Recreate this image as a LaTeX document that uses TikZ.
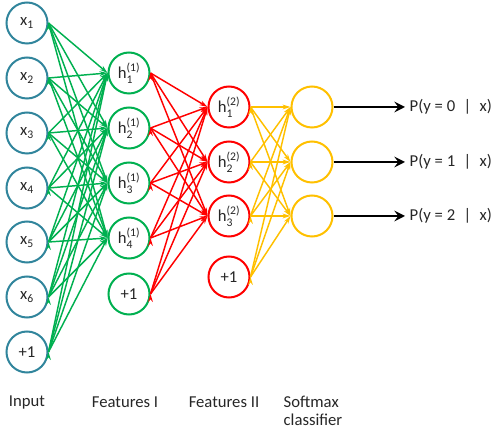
\documentclass[tikz,border=0pt]{standalone}
\usepackage{amsmath}
\usepackage{fontspec}
\setmainfont{Carlito}
\usetikzlibrary{arrows.meta}
\definecolor{inblue}{HTML}{31859C}
\definecolor{fgreen}{HTML}{00B050}
\definecolor{fred}{HTML}{FF0000}
\definecolor{forange}{HTML}{FFC000}
\definecolor{txt}{HTML}{262626}
\newcommand{\hunit}[2]{h$^{\text{(#2)}}_{\text{#1}}$}
\begin{document}
\begin{tikzpicture}[x=0.75pt, y=-0.75pt, font=\fontsize{12.5}{14}\selectfont,
    unit/.style={circle, draw=#1, text=txt, line width=1.5pt, minimum size=30.75pt, inner sep=0pt},
    wire/.style={line width=1.1pt, -{Stealth[length=6pt, width=3.6pt]}},
    outarrow/.style={black, line width=1.8pt, -{Stealth[length=8pt, width=8pt, inset=3pt]}},
    caption/.style={align=left, anchor=center, text=txt}]
    \useasboundingbox (0, 0) rectangle (500, 434);
    % input layer
    \node[unit=inblue] (x1) at (27, 23) {x\textsubscript{1}};
    \node[unit=inblue] (x2) at (27, 78) {x\textsubscript{2}};
    \node[unit=inblue] (x3) at (27, 133) {x\textsubscript{3}};
    \node[unit=inblue] (x4) at (27, 188) {x\textsubscript{4}};
    \node[unit=inblue] (x5) at (27, 242) {x\textsubscript{5}};
    \node[unit=inblue] (x6) at (27, 297) {x\textsubscript{6}};
    \node[unit=inblue] (xb) at (27, 352) {+1};
    % features I
    \node[unit=fgreen] (a1) at (129, 73) {\hunit{1}{1}};
    \node[unit=fgreen] (a2) at (129, 128) {\hunit{2}{1}};
    \node[unit=fgreen] (a3) at (129, 183) {\hunit{3}{1}};
    \node[unit=fgreen] (a4) at (129, 238) {\hunit{4}{1}};
    \node[unit=fgreen] (ab) at (129, 294) {+1};
    % features II
    \node[unit=fred] (b1) at (229, 107) {\hunit{1}{2}};
    \node[unit=fred] (b2) at (229, 162) {\hunit{2}{2}};
    \node[unit=fred] (b3) at (229, 216) {\hunit{3}{2}};
    \node[unit=fred] (bb) at (229, 277) {+1};
    % softmax
    \node[unit=forange] (s1) at (312, 107) {};
    \node[unit=forange] (s2) at (312, 162) {};
    \node[unit=forange] (s3) at (312, 216) {};
    % input to features I
    \draw[wire, fgreen] (x1.east) edge (a1.west) edge (a2.west) edge (a3.west) edge (a4.west);
    \draw[wire, fgreen] (x2.east) edge (a1.west) edge (a2.west) edge (a3.west) edge (a4.west);
    \draw[wire, fgreen] (x3.east) edge (a1.west) edge (a2.west) edge (a3.west) edge (a4.west);
    \draw[wire, fgreen] (x4.east) edge (a1.west) edge (a2.west) edge (a3.west) edge (a4.west);
    \draw[wire, fgreen] (x5.east) edge (a1.west) edge (a2.west) edge (a3.west) edge (a4.west);
    \draw[wire, fgreen] (x6.east) edge (a1.west) edge (a2.west) edge (a3.west) edge (a4.west);
    \draw[wire, fgreen] (xb.east) edge (a1.west) edge (a2.west) edge (a3.west) edge (a4.west);
    % features I to features II
    \draw[wire, fred] (a1.east) edge (b1.west) edge (b2.west) edge (b3.west);
    \draw[wire, fred] (a2.east) edge (b1.west) edge (b2.west) edge (b3.west);
    \draw[wire, fred] (a3.east) edge (b1.west) edge (b2.west) edge (b3.west);
    \draw[wire, fred] (a4.east) edge (b1.west) edge (b2.west) edge (b3.west);
    \draw[wire, fred] (ab.east) edge (b1.west) edge (b2.west) edge (b3.west);
    % features II to softmax
    \draw[wire, forange] (b1.east) edge (s1.west) edge (s2.west) edge (s3.west);
    \draw[wire, forange] (b2.east) edge (s1.west) edge (s2.west) edge (s3.west);
    \draw[wire, forange] (b3.east) edge (s1.west) edge (s2.west) edge (s3.west);
    \draw[wire, forange] (bb.east) edge (s1.west) edge (s2.west) edge (s3.west);
    % outputs
    \node[anchor=west, text=txt] (p0) at (405, 107) {P(y = 0 \;|\; x)};
    \node[anchor=west, text=txt] (p1) at (405, 162) {P(y = 1 \;|\; x)};
    \node[anchor=west, text=txt] (p2) at (405, 216) {P(y = 2 \;|\; x)};
    \draw[outarrow] (s1.east) -- (s1.east -| p0.west);
    \draw[outarrow] (s2.east) -- (s2.east -| p1.west);
    \draw[outarrow] (s3.east) -- (s3.east -| p2.west);
    % captions
    \node[caption] (lin) at (27, 402) {Input};
    \node[caption] (lf1) at (125, 402) {Features I};
    \node[caption] (lf2) at (224, 402) {Features II};
    \node[caption] (lsm) at (313, 411) {Softmax\\classifier};
\end{tikzpicture}
\end{document}
